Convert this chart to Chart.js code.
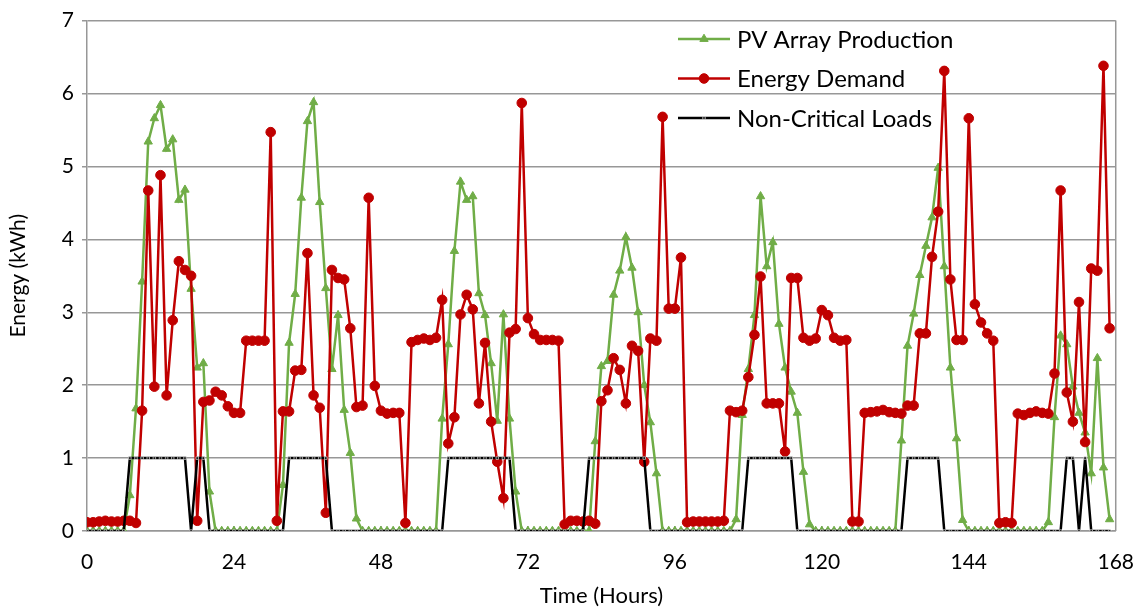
<!DOCTYPE html>
<html>
<head>
<meta charset="utf-8">
<script src="https://cdn.jsdelivr.net/npm/chart.js@4.4.1/dist/chart.umd.min.js"></script>
<style>
html, body { margin: 0; padding: 0; background: #fff; }
#wrap { width: 1145px; height: 609px; }
</style>
</head>
<body>
<div id="wrap"><canvas id="energyChart" width="1145" height="609"></canvas></div>
<script>
// one value per hour, 24 per row (one row = one day)
const pvProduction = [
    0, 0, 0, 0, 0, 0, 0, 0.49, 1.68, 3.42, 5.34, 5.66, 5.84, 5.24, 5.37, 4.54, 4.68, 3.32, 2.24, 2.30, 0.54, 0, 0, 0,
    0, 0, 0, 0, 0, 0, 0, 0, 0.63, 2.58, 3.25, 4.57, 5.62, 5.88, 4.51, 3.33, 2.22, 2.96, 1.66, 1.07, 0.17, 0, 0, 0,
    0, 0, 0, 0, 0, 0, 0, 0, 0, 0, 1.54, 2.56, 3.84, 4.79, 4.54, 4.59, 3.26, 2.96, 2.30, 1.51, 2.97, 1.54, 0.54, 0,
    0, 0, 0, 0, 0, 0, 0, 0, 0, 0, 0, 1.23, 2.26, 2.33, 3.24, 3.57, 4.03, 3.61, 3.00, 2.00, 1.49, 0.79, 0, 0,
    0, 0, 0, 0, 0, 0, 0, 0, 0, 0, 0.16, 1.59, 2.22, 2.96, 4.59, 3.63, 3.96, 2.84, 2.24, 1.91, 1.62, 0.81, 0.09, 0,
    0, 0, 0, 0, 0, 0, 0, 0, 0, 0, 0, 0, 0, 1.24, 2.54, 2.98, 3.51, 3.91, 4.30, 4.98, 3.63, 2.24, 1.27, 0.15,
    0, 0, 0, 0, 0, 0, 0, 0, 0, 0, 0, 0, 0, 0.12, 1.56, 2.68, 2.56, 1.98, 1.62, 1.35, 0.79, 2.37, 0.87, 0.16
];
const energyDemand = [
    0.12, 0.12, 0.13, 0.14, 0.13, 0.13, 0.14, 0.14, 0.11, 1.65, 4.67, 1.98, 4.88, 1.86, 2.89, 3.70, 3.58, 3.50, 0.14, 1.77, 1.79, 1.91, 1.86, 1.71,
    1.62, 1.62, 2.61, 2.61, 2.61, 2.61, 5.47, 0.14, 1.64, 1.64, 2.20, 2.21, 3.81, 1.86, 1.69, 0.25, 3.58, 3.47, 3.45, 2.78, 1.70, 1.72, 4.57, 1.99,
    1.65, 1.61, 1.62, 1.62, 0.11, 2.59, 2.62, 2.64, 2.62, 2.65, 3.17, 1.20, 1.56, 2.97, 3.24, 3.04, 1.75, 2.58, 1.50, 0.95, 0.45, 2.72, 2.77, 5.87,
    2.92, 2.70, 2.62, 2.62, 2.62, 2.61, 0.09, 0.14, 0.14, 0.13, 0.14, 0.10, 1.78, 1.93, 2.37, 2.21, 1.75, 2.54, 2.47, 0.95, 2.64, 2.61, 5.68, 3.05,
    3.05, 3.75, 0.12, 0.13, 0.13, 0.13, 0.13, 0.13, 0.14, 1.65, 1.63, 1.65, 2.11, 2.69, 3.49, 1.75, 1.75, 1.75, 1.09, 3.47, 3.47, 2.65, 2.61, 2.64,
    3.03, 2.96, 2.65, 2.61, 2.62, 0.13, 0.13, 1.62, 1.63, 1.64, 1.66, 1.63, 1.62, 1.61, 1.72, 1.72, 2.71, 2.71, 3.76, 4.38, 6.31, 3.45, 2.62, 2.62,
    5.66, 3.11, 2.86, 2.71, 2.61, 0.11, 0.12, 0.11, 1.61, 1.59, 1.62, 1.64, 1.62, 1.61, 2.16, 4.67, 1.90, 1.50, 3.14, 1.22, 3.60, 3.57, 6.38, 2.78
];
const nonCriticalLoads = [
    0, 0, 0, 0, 0, 0, 0, 1, 1, 1, 1, 1, 1, 1, 1, 1, 1, 0, 1, 1, 0, 0, 0, 0,
    0, 0, 0, 0, 0, 0, 0, 0, 0, 1, 1, 1, 1, 1, 1, 1, 0, 0, 0, 0, 0, 0, 0, 0,
    0, 0, 0, 0, 0, 0, 0, 0, 0, 0, 0, 1, 1, 1, 1, 1, 1, 1, 1, 1, 1, 1, 0, 0,
    0, 0, 0, 0, 0, 0, 0, 0, 0, 0, 1, 1, 1, 1, 1, 1, 1, 1, 1, 1, 0, 0, 0, 0,
    0, 0, 0, 0, 0, 0, 0, 0, 0, 0, 0, 0, 1, 1, 1, 1, 1, 1, 1, 1, 0, 0, 0, 0,
    0, 0, 0, 0, 0, 0, 0, 0, 0, 0, 0, 0, 0, 0, 1, 1, 1, 1, 1, 1, 0, 0, 0, 0,
    0, 0, 0, 0, 0, 0, 0, 0, 0, 0, 0, 0, 0, 0, 0, 0, 1, 1, 0, 1, 0, 0, 0, 0
];
const xTickValues = [0, 24, 48, 72, 96, 120, 144, 168];
const yTickValues = [0, 1, 2, 3, 4, 5, 6, 7];

const GREEN = '#70AD47';
const RED = '#C00000';
const GRID = '#979797';
const FONT = 'Lato, "Open Sans", sans-serif';

const toPoints = arr => arr.map((v, h) => ({ x: h, y: v }));

// extra bits Excel draws: right border, inner x ticks, legend inside the plot
const extras = {
    id: 'extras',
    beforeDatasetsDraw(chart) {
        const { ctx, chartArea: a, scales: { x } } = chart;
        ctx.save();
        ctx.strokeStyle = GRID;
        ctx.lineWidth = 1.5;
        ctx.beginPath();
        ctx.moveTo(a.right, a.top);
        ctx.lineTo(a.right, a.bottom);
        xTickValues.forEach(v => {
            const px = x.getPixelForValue(v);
            ctx.moveTo(px, a.bottom);
            ctx.lineTo(px, a.bottom - 5);
        });
        ctx.stroke();
        ctx.restore();
    },
    afterDraw(chart) {
        const ctx = chart.ctx;
        ctx.save();
        ctx.font = '24px ' + FONT;
        ctx.textBaseline = 'middle';
        chart.data.datasets.forEach((ds, i) => {
            const y = 39 + i * 39.5;
            ctx.strokeStyle = ds.borderColor;
            ctx.lineWidth = ds.borderWidth;
            ctx.beginPath();
            ctx.moveTo(678, y);
            ctx.lineTo(730, y);
            ctx.stroke();
            ctx.fillStyle = ds.pointBackgroundColor;
            ctx.strokeStyle = ds.pointBorderColor;
            ctx.lineWidth = ds.pointBorderWidth;
            Chart.helpers.drawPoint(ctx, { pointStyle: ds.pointStyle, radius: ds.pointRadius, rotation: 0, borderWidth: ds.pointBorderWidth }, 704, y);
            ctx.fillStyle = '#000';
            ctx.fillText(ds.label, 737, y + 1);
        });
        ctx.restore();
    }
};

const ctx = document.getElementById('energyChart').getContext('2d');
new Chart(ctx, {
    type: 'line',
    data: {
        datasets: [{
            label: 'PV Array Production',
            data: toPoints(pvProduction),
            borderColor: GREEN,
            borderWidth: 2.5,
            pointStyle: 'triangle',
            pointRadius: 4.8,
            pointBackgroundColor: GREEN,
            pointBorderColor: GREEN,
            pointBorderWidth: 1,
            order: 3
        }, {
            label: 'Energy Demand',
            data: toPoints(energyDemand),
            borderColor: RED,
            borderWidth: 2.5,
            pointStyle: 'circle',
            pointRadius: 4.8,
            pointBackgroundColor: RED,
            pointBorderColor: RED,
            pointBorderWidth: 1,
            order: 2
        }, {
            label: 'Non-Critical Loads',
            data: toPoints(nonCriticalLoads),
            borderColor: '#000',
            borderWidth: 2.5,
            pointStyle: 'rect',
            pointRadius: 1.8,
            pointBackgroundColor: '#000',
            pointBorderColor: '#fff',
            pointBorderWidth: 0.6,
            order: 1
        }]
    },
    options: {
        responsive: false,
        animation: false,
        layout: { padding: { top: 0, right: 27, left: 0, bottom: 0 } },
        plugins: { legend: { display: false }, tooltip: { enabled: false } },
        elements: { line: { tension: 0 } },
        scales: {
            x: {
                type: 'linear',
                min: 0,
                max: 168,
                afterBuildTicks: s => { s.ticks = xTickValues.map(v => ({ value: v })); },
                afterFit: s => { s.height = 78; },
                grid: { display: false },
                border: { color: GRID, width: 1.5 },
                ticks: { font: { family: FONT, size: 21 }, color: '#000', padding: 11, maxRotation: 0 },
                title: { display: true, text: 'Time (Hours)', font: { family: FONT, size: 22 }, color: '#000', padding: { top: 0, bottom: 0 } }
            },
            y: {
                min: 0,
                max: 7,
                afterBuildTicks: s => { s.ticks = yTickValues.map(v => ({ value: v })); },
                afterFit: s => { s.width = 87; },
                grid: { color: GRID, lineWidth: 1.5, tickLength: 5, tickColor: GRID },
                border: { color: GRID, width: 1.5 },
                ticks: { font: { family: FONT, size: 21 }, color: '#000', padding: 8 },
                title: { display: true, text: 'Energy (kWh)', font: { family: FONT, size: 21 }, color: '#000', padding: { top: 6, bottom: 0 } }
            }
        }
    },
    plugins: [extras]
});
</script>
</body>
</html>
